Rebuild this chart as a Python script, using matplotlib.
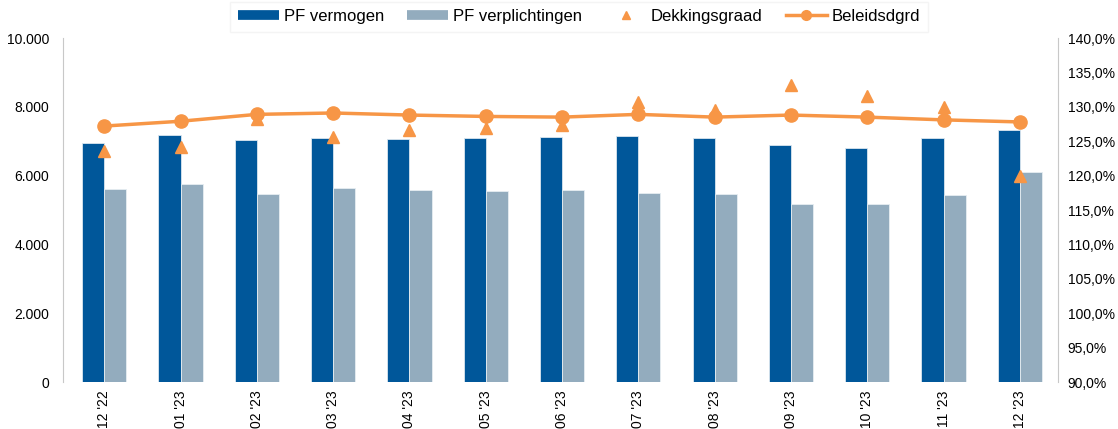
import matplotlib
matplotlib.use("Agg")
import matplotlib.pyplot as plt
from matplotlib.lines import Line2D
from matplotlib.ticker import FuncFormatter, FixedLocator
import numpy as np

plt.rcParams['font.family'] = ['Liberation Sans', 'DejaVu Sans']

categories = ["12 '22", "01 '23", "02 '23", "03 '23", "04 '23", "05 '23", "06 '23",
              "07 '23", "08 '23", "09 '23", "10 '23", "11 '23", "12 '23"]
pf_vermogen = [6940, 7170, 7030, 7085, 7065, 7080, 7110, 7160, 7085, 6900, 6800, 7085, 7335]
pf_verplichtingen = [5600, 5765, 5455, 5640, 5580, 5560, 5585, 5485, 5465, 5175, 5175, 5445, 6105]
dekkingsgraad = [123.6, 124.2, 128.2, 125.6, 126.6, 126.9, 127.3, 130.7, 129.6, 133.1, 131.6, 130.0, 119.9]
beleidsdgrd = [127.2, 127.9, 128.9, 129.1, 128.8, 128.6, 128.5, 128.9, 128.5, 128.8, 128.5, 128.1, 127.8]

left_ticks = [0, 2000, 4000, 6000, 8000, 10000]
right_ticks = [90, 95, 100, 105, 110, 115, 120, 125, 130, 135, 140]

c_dark = '#00579A'
c_light = '#93ACBE'
c_orange = '#F79646'

fig = plt.figure(figsize=(11.18, 4.29), dpi=100)
ax = fig.add_axes([63/1118, 1 - 382/429, (1058-63)/1118, (382-38)/429])
ax2 = ax.twinx()

x = np.arange(len(categories))
w = 0.29
ax.bar(x - w/2, pf_vermogen, width=w, color=c_dark, edgecolor='#dbe6ef', linewidth=0.6, zorder=2)
ax.bar(x + w/2, pf_verplichtingen, width=w, color=c_light, edgecolor='#e6edf2', linewidth=0.6, zorder=2)

ax2.plot(x, dekkingsgraad, linestyle='none', color=c_orange, marker='^', markersize=9, zorder=3)
ax2.plot(x, beleidsdgrd, color=c_orange, lw=2.5, marker='o', markersize=9.5, zorder=4)

ax.set_xlim(-0.54, 12.5)
ax.set_ylim(0, 10000)
ax2.set_ylim(90, 140)

ax.yaxis.set_major_locator(FixedLocator(left_ticks))
ax.yaxis.set_major_formatter(FuncFormatter(lambda v, p: f"{int(v):,}".replace(",", ".")))
ax2.yaxis.set_major_locator(FixedLocator(right_ticks))
ax2.yaxis.set_major_formatter(FuncFormatter(lambda v, p: f"{v:.1f}%".replace(".", ",")))

ax.set_xticks(x)
ax.set_xticklabels(categories, rotation=90, fontsize=10, va='top')

for a in (ax, ax2):
    a.tick_params(length=0)
    for s in ['top', 'bottom']:
        a.spines[s].set_visible(False)
    a.spines['left'].set_color('#c8c8c8')
    a.spines['right'].set_color('#c8c8c8')
ax.spines['right'].set_visible(False)
ax2.spines['left'].set_visible(False)
ax.tick_params(axis='y', labelsize=10, pad=10)
ax.tick_params(axis='x', pad=6)
ax2.tick_params(axis='y', labelsize=10, pad=7)

handles = [
    Line2D([], [], color=c_dark, lw=7, solid_capstyle='butt'),
    Line2D([], [], color=c_light, lw=7, solid_capstyle='butt'),
    Line2D([], [], color=c_orange, lw=0, marker='^', markersize=6),
    Line2D([], [], color=c_orange, lw=2.5, marker='o', markersize=7),
]
labels = ["PF vermogen", "PF verplichtingen", "Dekkingsgraad", "Beleidsdgrd"]
leg = fig.legend(handles, labels, loc='upper center', bbox_to_anchor=(0.518, 1.0), ncol=4,
                 fontsize=12, frameon=True, handlelength=2.46, handletextpad=0.3,
                 columnspacing=1.38, borderpad=0.45, borderaxespad=0.1, fancybox=False)
leg.get_frame().set_edgecolor('#f2f2f2')
leg.get_frame().set_linewidth(1.0)

fig.savefig('out.png', dpi=100)
